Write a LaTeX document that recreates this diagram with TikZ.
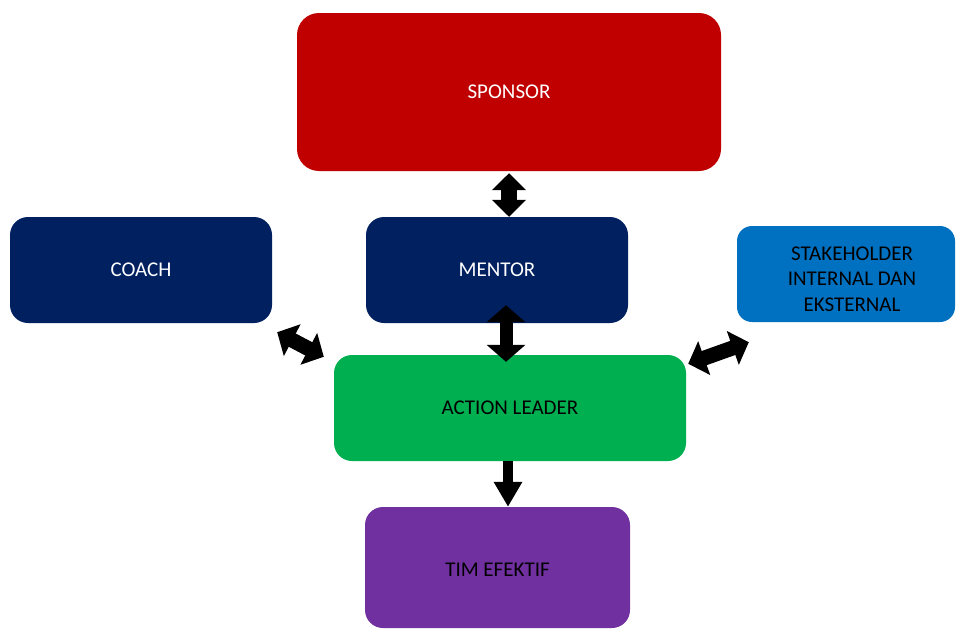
\documentclass[tikz,border=0pt]{standalone}
\usepackage{fontspec}
\setmainfont{Carlito}
\usepackage{tikz}
\usetikzlibrary{positioning,calc,arrows.meta}

\definecolor{sponsorred}{HTML}{C00000}
\definecolor{navy}{HTML}{002060}
\definecolor{stakeblue}{HTML}{0070C0}
\definecolor{leadergreen}{HTML}{00B050}
\definecolor{timpurple}{HTML}{7030A0}

\begin{document}
\begin{tikzpicture} [x=1pt, y=-1pt,
      box/.style={rectangle, rounded corners=18pt, inner sep=0pt,
        font=\fontsize{21}{26}\selectfont},
      darkbox/.style={box, fill=navy, text=white,
        minimum width=262pt, minimum height=106pt},
      twohead/.style={line width=#1,
        {Triangle[length=17pt,width=33pt]}-{Triangle[length=17pt,width=33pt]}},
      onehead/.style={line width=10pt, -{Triangle[length=25pt,width=27pt]}}]

      \useasboundingbox (0,0) rectangle (957,629);

      \node[box, fill=sponsorred, text=white, rounded corners=22pt,
      minimum width=424pt, minimum height=158pt] (sponsor) at (509,92) {SPONSOR};
      \node[darkbox] (coach) at (141,270) {COACH};
      \node[darkbox] (mentor) at (497,270) {MENTOR};
      \node[box, fill=stakeblue, rounded corners=15pt,
      minimum width=218pt, minimum height=96pt] (stake) at (846,274) {};
      \node[box, fill=leadergreen, minimum width=352pt,
      minimum height=106pt] (action) at (510,408) {ACTION LEADER};
      \node[box, fill=timpurple, minimum width=265pt,
      minimum height=121pt, text depth=0pt] (tim) at (497.5,567.5)
      {\raisebox{-4pt}{TIM EFEKTIF}};

      \begin{scope}
        \clip (stake.north west) rectangle ([yshift=11pt]stake.south east);
        \node[font=\fontsize{21}{25.5}\selectfont, align=center, anchor=north]
        (stakelabel) at (852,243) {STAKEHOLDER\\INTERNAL DAN\\EKSTERNAL};
      \end{scope}

      \draw[twohead=16pt] ([yshift=-2pt]sponsor.south)
      -- (sponsor.south |- mentor.north);
      \draw[twohead=13pt, {Triangle[length=17pt,width=38pt]}-{Triangle[length=17pt,width=38pt]}]
      ([xshift=9pt,yshift=18pt]mentor.south)
      -- ([xshift=-4pt,yshift=-7pt]action.north);
      \draw[onehead] ([xshift=-2pt]action.south)
      -- ([xshift=-2pt]action.south |- tim.north);
      \draw[twohead=15pt, {Triangle[length=17pt,width=35pt]}-{Triangle[length=17pt,width=35pt]}]
      ([xshift=5pt,yshift=-9pt]coach.south east)
      -- ([xshift=-10pt,yshift=-2pt]action.north west);
      \draw[twohead=15pt, {Triangle[length=17pt,width=35pt]}-{Triangle[length=17pt,width=35pt]}]
      ([xshift=2pt,yshift=-9pt]action.north east)
      -- ([xshift=12pt,yshift=-20pt]stake.south west);
    \end{tikzpicture}
\end{document}
